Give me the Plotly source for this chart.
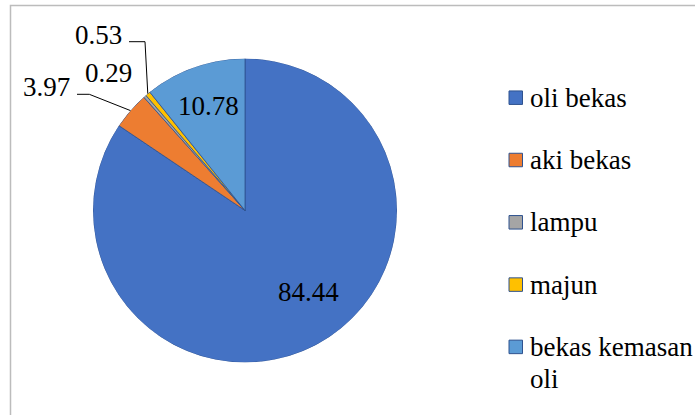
import math
import textwrap
import plotly.graph_objects as go

# ---- data ----
categories = ["oli bekas", "aki bekas", "lampu", "majun", "bekas kemasan oli"]
values = [84.44, 3.97, 0.29, 0.53, 10.78]
colors = ["#4472C4", "#ED7D31", "#A5A5A5", "#FFC000", "#5B9BD5"]

# ---- layout (pixels) ----
W, H = 695, 415
cx, cy, R = 245, 210.5, 152
FONT = "Liberation Serif"
FS = 27
EDGE = "#2F528F"

# value label positions (px) and leader-line start/elbow points
label_pos = [(308.5, 291.7), (46.7, 87.0), (108.3, 72.7), (98.3, 35.5), (208.5, 106.0)]
leaders = {1: [(77, 94.3), (89.3, 94.3)], 3: [(129, 41.7), (145, 41.7)]}

legend_x_box = 509
legend_box = 13.5
legend_text_x = 528
legend_y0 = 97.7
legend_gap = 62.3
line_gap = 31.7


def X(px):
    return px / W


def Y(py):
    return 1 - py / H


total = sum(values)
shares = [360 * v / total for v in values]
mids = []
acc = 0.0
for s in shares:
    mids.append(acc + s / 2)
    acc += s

fig = go.Figure()
fig.add_trace(go.Barpolar(
    theta=mids, width=shares, r=[1] * len(values),
    text=categories, customdata=values,
    hovertemplate="%{text}: %{customdata}<extra></extra>",
    marker=dict(color=colors, line=dict(color=EDGE, width=0.8)),
    showlegend=False,
))

annotations = []
shapes = []

for i, v in enumerate(values):
    mid = math.radians(mids[i])
    rim = (cx + R * math.sin(mid), cy - R * math.cos(mid))
    lx, ly = label_pos[i]
    annotations.append(dict(
        x=X(lx), y=Y(ly), xref="paper", yref="paper", text=f"{v:.2f}",
        showarrow=False, xanchor="center", yanchor="middle",
        font=dict(family=FONT, size=FS, color="black"),
    ))
    if i in leaders:
        pts = leaders[i] + [rim]
        path = "M " + " L ".join(f"{X(px)} {Y(py)}" for px, py in pts)
        shapes.append(dict(type="path", path=path, xref="paper", yref="paper",
                           line=dict(color="black", width=1)))

# manual legend
for i, (cat, col) in enumerate(zip(categories, colors)):
    yc = legend_y0 + i * legend_gap
    shapes.append(dict(
        type="rect", xref="paper", yref="paper",
        x0=X(legend_x_box), x1=X(legend_x_box + legend_box),
        y0=Y(yc - legend_box / 2), y1=Y(yc + legend_box / 2),
        fillcolor=col, line=dict(color=EDGE, width=1),
    ))
    for j, line in enumerate(textwrap.wrap(cat, 13)):
        annotations.append(dict(
            x=X(legend_text_x), y=Y(yc + j * line_gap), xref="paper", yref="paper",
            text=line, showarrow=False, xanchor="left", yanchor="middle",
            font=dict(family=FONT, size=FS, color="black"),
        ))

# chart frame
shapes.append(dict(type="rect", xref="paper", yref="paper",
                   x0=X(10.5), x1=X(W + 5), y0=Y(H + 5), y1=Y(5.5),
                   line=dict(color="#BCBCBC", width=1.5), fillcolor="rgba(0,0,0,0)"))

fig.update_layout(
    width=W, height=H, margin=dict(l=0, r=0, t=0, b=0),
    paper_bgcolor="white",
    font=dict(family=FONT),
    polar=dict(
        domain=dict(x=[X(cx - R), X(cx + R)], y=[Y(cy + R), Y(cy - R)]),
        bgcolor="rgba(0,0,0,0)", bargap=0, hole=0,
        angularaxis=dict(rotation=90, direction="clockwise", visible=False,
                         showgrid=False, showline=False, ticks=""),
        radialaxis=dict(range=[0, 1], visible=False, showgrid=False,
                        showline=False, ticks=""),
    ),
    annotations=annotations, shapes=shapes, showlegend=False,
)

fig.write_html("out.html")
